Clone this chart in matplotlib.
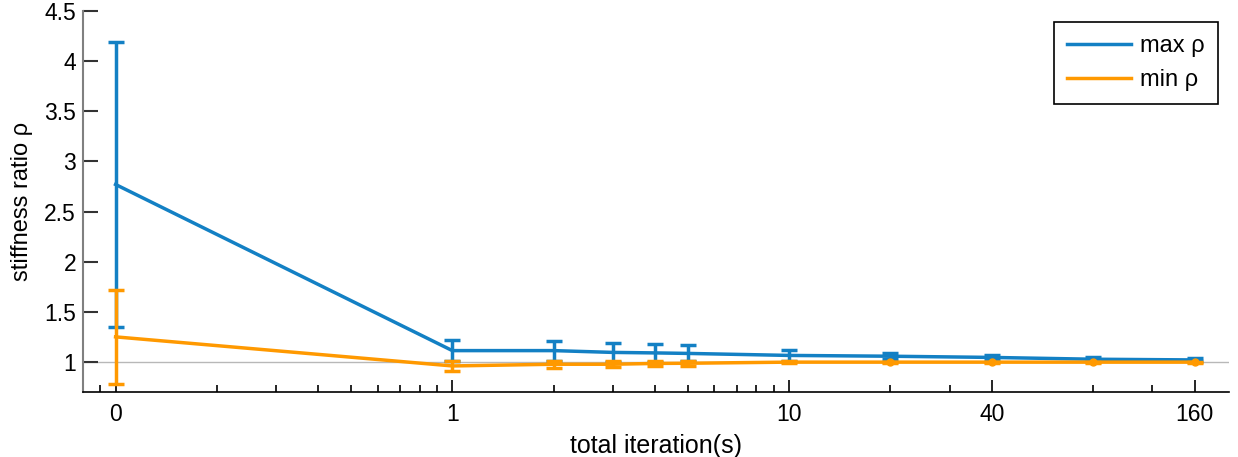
import numpy as np
import matplotlib.pyplot as plt
from matplotlib.lines import Line2D
from matplotlib.ticker import FixedLocator, FixedFormatter

plt.rcParams['font.family'] = ['Liberation Sans', 'DejaVu Sans']

# iterations (0 is drawn one decade below 1 on the log axis)
iterations = [0, 1, 2, 3, 4, 5, 10, 20, 40, 80, 160]
tick_iters = [0, 1, 10, 40, 160]

max_mean = [2.77, 1.113, 1.113, 1.095, 1.09, 1.085, 1.065, 1.057, 1.045, 1.027, 1.02]
max_err = [1.42, 0.107, 0.10, 0.093, 0.088, 0.08, 0.055, 0.03, 0.02, 0.02, 0.015]
min_mean = [1.25, 0.96, 0.977, 0.977, 0.985, 0.987, 0.998, 0.998, 0.998, 0.998, 0.998]
min_err = [0.47, 0.053, 0.035, 0.03, 0.028, 0.025, 0.01, 0.005, 0.005, 0.005, 0.005]

blue = '#1380c4'
orange = '#ff9900'


def to_log(v):
    return [0.1 if i == 0 else i for i in v]


x = to_log(iterations)

fig = plt.figure(figsize=(12.38, 4.57), dpi=100)
ax = fig.add_axes([0.067, 0.1422, 0.9260, 0.8337])

ax.axhline(1, color='#b8b8b8', lw=1, zorder=1)

ax.errorbar(x, max_mean, yerr=max_err, color=blue, lw=2.5, elinewidth=2.5,
            capsize=6, capthick=2.5, zorder=3)
ax.errorbar(x, min_mean, yerr=min_err, color=orange, lw=2.5, elinewidth=2.5,
            capsize=6, capthick=2.5, zorder=4,
            marker='o', markersize=5, markevery=[7, 8, 9, 10])

ax.set_xscale('log')
ax.set_xlim(0.08, 203)
ax.set_ylim(0.7, 4.5)

ax.xaxis.set_major_locator(FixedLocator(to_log(tick_iters)))
ax.xaxis.set_major_formatter(FixedFormatter([str(t) for t in tick_iters]))
minor = [0.09] + [k / 10 for k in range(2, 10)] + list(range(2, 10)) + [20, 30, 80, 120]
ax.xaxis.set_minor_locator(FixedLocator(minor))
ax.xaxis.set_minor_formatter(FixedFormatter([''] * len(minor)))

ax.set_yticks([1, 1.5, 2, 2.5, 3, 3.5, 4, 4.5])
ax.set_yticklabels(['1', '1.5', '2', '2.5', '3', '3.5', '4', '4.5'])

ax.tick_params(axis='y', direction='in', length=11, width=1.5, color='#333333',
               labelsize=16.5, pad=5)
ax.tick_params(axis='x', which='major', direction='in', length=9, width=1.2,
               labelsize=16.5, pad=8, top=False)
ax.tick_params(axis='x', which='minor', direction='in', length=5, width=1.2)

for s in ['top', 'right']:
    ax.spines[s].set_visible(False)
ax.spines['left'].set_color('#808080')
ax.spines['left'].set_linewidth(1.5)
ax.spines['bottom'].set_linewidth(1.2)

ax.set_ylabel('stiffness ratio ρ', fontsize=17)
ax.yaxis.set_label_coords(-0.044, 0.5)
ax.set_xlabel('total iteration(s)', fontsize=18, labelpad=6)

handles = [Line2D([], [], color=blue, lw=2.5), Line2D([], [], color=orange, lw=2.5)]
leg = ax.legend(handles, ['max ρ', 'min ρ'], loc='upper right',
                bbox_to_anchor=(0.990, 0.971), borderaxespad=0,
                fancybox=False, edgecolor='black', framealpha=1, fontsize=17,
                handlelength=2.7, handletextpad=0.4, borderpad=0.55, labelspacing=0.5)
leg.get_frame().set_linewidth(1.2)

fig.savefig('out.png', dpi=100)
